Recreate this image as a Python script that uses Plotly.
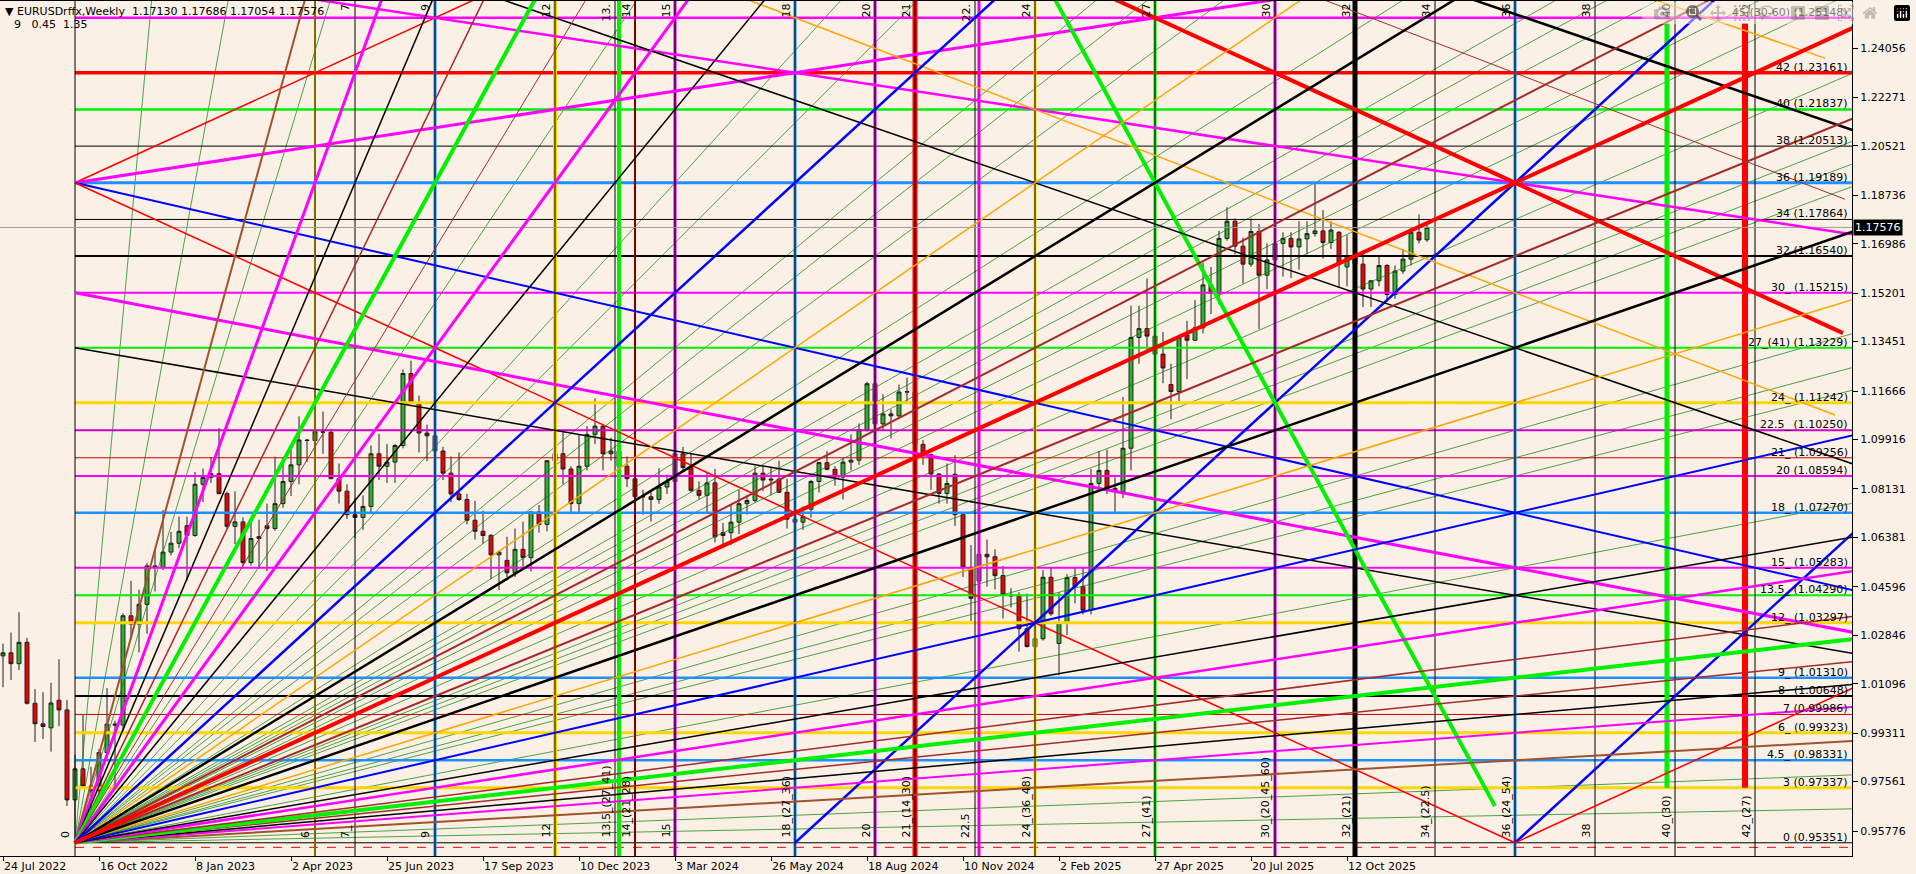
import plotly.graph_objects as go

# ------------------------------------------------------------------ data
date_tick_weeks = [0, 12, 24, 36, 48, 60, 72, 84, 96, 108, 120, 132, 144, 156, 168]
date_tick_labels = ["24 Jul 2022", "16 Oct 2022", "8 Jan 2023", "2 Apr 2023", "25 Jun 2023",
                    "17 Sep 2023", "10 Dec 2023", "3 Mar 2024", "26 May 2024", "18 Aug 2024",
                    "10 Nov 2024", "2 Feb 2025", "27 Apr 2025", "20 Jul 2025", "12 Oct 2025"]
price_ticks = [0.95776, 0.97561, 0.99311, 1.01096, 1.02846, 1.04596, 1.06381, 1.08131,
               1.09916, 1.11666, 1.13451, 1.15201, 1.16986, 1.18736, 1.20521, 1.22271, 1.24056]

# weekly EURUSD candles, week 0 = 24 Jul 2022
opens = [1.0210, 1.0221, 1.0182, 1.0259, 1.0039, 0.9965, 0.9950, 1.0050, 1.0015, 0.9690,
         0.9802, 0.9740, 0.9723, 0.9861, 0.9964, 0.9960, 1.0355, 1.0325, 1.0396, 1.0535,
         1.0530, 1.0585, 1.0617, 1.0680, 1.0645, 1.0830, 1.0855, 1.0868, 1.0796, 1.0678,
         1.0694, 1.0547, 1.0634, 1.0680, 1.0670, 1.0760, 1.0840, 1.0900, 1.0990, 1.0988,
         1.1020, 1.1018, 1.0850, 1.0805, 1.0720, 1.0710, 1.0750, 1.0940, 1.0895, 1.0910,
         1.0970, 1.1230, 1.1125, 1.1015, 1.1005, 1.0950, 1.0870, 1.0795, 1.0775, 1.0700,
         1.0660, 1.0645, 1.0575, 1.0555, 1.0510, 1.0595, 1.0565, 1.0730, 1.0685, 1.0915,
         1.0940, 1.0885, 1.0760, 1.0895, 1.1010, 1.1040, 1.0940, 1.0950, 1.0895, 1.0850,
         1.0785, 1.0785, 1.0775, 1.0820, 1.0840, 1.0940, 1.0890, 1.0808, 1.0790, 1.0835,
         1.0655, 1.0655, 1.0693, 1.0760, 1.0771, 1.0870, 1.0845, 1.0848, 1.0801, 1.0704,
         1.0693, 1.0740, 1.0840, 1.0908, 1.0884, 1.0856, 1.0910, 1.0917, 1.1027, 1.1193,
         1.1048, 1.1084, 1.1077, 1.1163, 1.1164, 1.0974, 1.0937, 1.0867, 1.0797, 1.0866,
         1.0720, 1.0530, 1.0480, 1.0577, 1.0568, 1.0500, 1.0430, 1.0427, 1.0308, 1.0244,
         1.0272, 1.0494, 1.0255, 1.0330, 1.0493, 1.0460, 1.0375, 1.0833, 1.0880, 1.0815,
         1.0803, 1.0960, 1.1360, 1.1392, 1.1365, 1.1300, 1.1190, 1.1165, 1.1370, 1.1350,
         1.1395, 1.1550, 1.1520, 1.1718, 1.1780, 1.1690, 1.1625, 1.1743, 1.1585, 1.1640,
         1.1700, 1.1718, 1.1687, 1.1716, 1.1735, 1.1745, 1.1703, 1.1740, 1.1615, 1.1655,
         1.1625, 1.1535, 1.1565, 1.1620, 1.1515, 1.1600, 1.1643, 1.1740, 1.17130]
highs = [1.0254, 1.0294, 1.0368, 1.0275, 1.0090, 1.0079, 1.0113, 1.0198, 1.0051, 0.9854,
         0.9999, 0.9809, 0.9873, 1.0094, 0.9976, 1.0364, 1.0481, 1.0449, 1.0545, 1.0595,
         1.0737, 1.0658, 1.0713, 1.0713, 1.0874, 1.0887, 1.0928, 1.1033, 1.0804, 1.0804,
         1.0710, 1.0691, 1.0702, 1.0760, 1.0930, 1.0927, 1.0973, 1.1075, 1.0993, 1.1095,
         1.1092, 1.1030, 1.0905, 1.0830, 1.0780, 1.0790, 1.0970, 1.1012, 1.0975, 1.0975,
         1.1245, 1.1276, 1.1150, 1.1045, 1.1065, 1.0965, 1.0930, 1.0945, 1.0795, 1.0770,
         1.0735, 1.0650, 1.0590, 1.0640, 1.0670, 1.0695, 1.0730, 1.0755, 1.0915, 1.0965,
         1.1017, 1.0895, 1.1010, 1.1040, 1.1140, 1.1045, 1.0998, 1.0970, 1.0930, 1.0895,
         1.0810, 1.0805, 1.0888, 1.0865, 1.0980, 1.0965, 1.0942, 1.0840, 1.0875, 1.0885,
         1.0690, 1.0755, 1.0810, 1.0790, 1.0895, 1.0895, 1.0890, 1.0915, 1.0850, 1.0760,
         1.0750, 1.0845, 1.0910, 1.0950, 1.0895, 1.0925, 1.1010, 1.1050, 1.1200, 1.1202,
         1.1155, 1.1100, 1.1190, 1.1215, 1.1210, 1.0990, 1.0940, 1.0870, 1.0905, 1.0935,
         1.0725, 1.0610, 1.0595, 1.0630, 1.0595, 1.0535, 1.0455, 1.0440, 1.0435, 1.0355,
         1.0520, 1.0530, 1.0440, 1.0505, 1.0530, 1.0530, 1.0885, 1.0950, 1.0955, 1.0855,
         1.1145, 1.1475, 1.1475, 1.1573, 1.1425, 1.1380, 1.1265, 1.1365, 1.1420, 1.1495,
         1.1630, 1.1615, 1.1745, 1.1830, 1.1790, 1.1720, 1.1790, 1.1770, 1.1700, 1.1730,
         1.1740, 1.1740, 1.1780, 1.1780, 1.1918, 1.1820, 1.1780, 1.1745, 1.1730, 1.1670,
         1.1670, 1.1565, 1.1655, 1.1625, 1.1620, 1.1680, 1.1760, 1.1805, 1.17686]
lows = [1.0097, 1.0123, 1.0159, 1.0034, 0.9899, 0.9910, 0.9864, 0.9956, 0.9668, 0.9536,
        0.9740, 0.9632, 0.9705, 0.9830, 0.9730, 0.9935, 1.0270, 1.0223, 1.0290, 1.0443,
        1.0520, 1.0573, 1.0600, 1.0483, 1.0640, 1.0766, 1.0835, 1.0794, 1.0669, 1.0614,
        1.0533, 1.0536, 1.0524, 1.0516, 1.0662, 1.0745, 1.0788, 1.0830, 1.0910, 1.0940,
        1.0940, 1.0850, 1.0760, 1.0705, 1.0635, 1.0665, 1.0730, 1.0845, 1.0835, 1.0835,
        1.0960, 1.1120, 1.0945, 1.0913, 1.0925, 1.0845, 1.0765, 1.0770, 1.0685, 1.0630,
        1.0615, 1.0488, 1.0448, 1.0495, 1.0495, 1.0520, 1.0515, 1.0655, 1.0660, 1.0855,
        1.0830, 1.0725, 1.0725, 1.0880, 1.0975, 1.0880, 1.0915, 1.0845, 1.0820, 1.0780,
        1.0720, 1.0695, 1.0760, 1.0795, 1.0835, 1.0880, 1.0800, 1.0775, 1.0725, 1.0620,
        1.0600, 1.0610, 1.0650, 1.0720, 1.0765, 1.0805, 1.0790, 1.0800, 1.0670, 1.0670,
        1.0665, 1.0710, 1.0800, 1.0880, 1.0825, 1.0775, 1.0880, 1.0900, 1.1020, 1.1040,
        1.1025, 1.0995, 1.1070, 1.1120, 1.0950, 1.0900, 1.0810, 1.0760, 1.0760, 1.0680,
        1.0495, 1.0335, 1.0425, 1.0460, 1.0450, 1.0345, 1.0385, 1.0225, 1.0240, 1.0178,
        1.0265, 1.0355, 1.0140, 1.0285, 1.0400, 1.0360, 1.0360, 1.0805, 1.0795, 1.0730,
        1.0780, 1.0880, 1.1265, 1.1305, 1.1265, 1.1195, 1.1065, 1.1130, 1.1210, 1.1350,
        1.1375, 1.1445, 1.1480, 1.1710, 1.1660, 1.1555, 1.1615, 1.1390, 1.1535, 1.1590,
        1.1580, 1.1575, 1.1605, 1.1660, 1.1725, 1.1645, 1.1680, 1.1540, 1.1545, 1.1575,
        1.1470, 1.1470, 1.1545, 1.1490, 1.1500, 1.1590, 1.1620, 1.1700, 1.17054]
closes = [1.0221, 1.0182, 1.0259, 1.0039, 0.9965, 0.9955, 1.0040, 1.0015, 0.9690, 0.9802,
          0.9740, 0.9723, 0.9861, 0.9964, 0.9960, 1.0355, 1.0325, 1.0396, 1.0535, 1.0530,
          1.0585, 1.0617, 1.0660, 1.0645, 1.0830, 1.0855, 1.0868, 1.0796, 1.0678, 1.0694,
          1.0547, 1.0634, 1.0641, 1.0670, 1.0760, 1.0840, 1.0900, 1.0990, 1.0988, 1.1020,
          1.1018, 1.0850, 1.0805, 1.0720, 1.0710, 1.0750, 1.0940, 1.0895, 1.0910, 1.0970,
          1.1230, 1.1125, 1.1015, 1.1005, 1.0950, 1.0870, 1.0795, 1.0775, 1.0700, 1.0660,
          1.0645, 1.0575, 1.0585, 1.0510, 1.0595, 1.0565, 1.0730, 1.0685, 1.0915, 1.0940,
          1.0885, 1.0760, 1.0895, 1.1010, 1.1040, 1.0940, 1.0950, 1.0895, 1.0850, 1.0785,
          1.0785, 1.0775, 1.0820, 1.0840, 1.0940, 1.0890, 1.0808, 1.0790, 1.0835, 1.0640,
          1.0645, 1.0693, 1.0760, 1.0771, 1.0870, 1.0845, 1.0848, 1.0801, 1.0704, 1.0693,
          1.0713, 1.0840, 1.0908, 1.0884, 1.0856, 1.0910, 1.0917, 1.1027, 1.1193, 1.1048,
          1.1084, 1.1077, 1.1163, 1.1164, 1.0974, 1.0937, 1.0867, 1.0797, 1.0833, 1.0720,
          1.0530, 1.0418, 1.0577, 1.0568, 1.0500, 1.0430, 1.0427, 1.0308, 1.0244, 1.0272,
          1.0494, 1.0362, 1.0330, 1.0493, 1.0460, 1.0375, 1.0833, 1.0880, 1.0815, 1.0803,
          1.0960, 1.1360, 1.1392, 1.1365, 1.1300, 1.1250, 1.1165, 1.1360, 1.1350, 1.1395,
          1.1550, 1.1520, 1.1718, 1.1780, 1.1690, 1.1625, 1.1743, 1.1585, 1.1640, 1.1700,
          1.1718, 1.1687, 1.1716, 1.1735, 1.1745, 1.1703, 1.1748, 1.1625, 1.1655, 1.1625,
          1.1535, 1.1565, 1.1620, 1.1515, 1.1600, 1.1643, 1.1740, 1.1712, 1.17576]
last_price = 1.17576
header_line1 = "\u25bc EURUSDrffx,Weekly\u00a0\u00a01.17130 1.17686 1.17054 1.17576"
header_line2 = "9\u00a0\u00a0\u00a00.45\u00a0\u00a01.35"

# Gann grid anchored on the Sep-2022 low (week 9, 0.95351)
grid_origin_week = 9
grid_weeks_per_unit = 5
grid_origin_price = 0.95351
grid_price_per_unit = 0.00662167

level_units = [0, 3, 4.5, 6, 7, 8, 9, 12, 13.5, 15, 18, 20, 21, 22.5, 24, 27, 30, 32, 34, 36, 38, 40, 42, 45]
level_prices = [0.95351, 0.97337, 0.98331, 0.99323, 0.99986, 1.00648, 1.01310, 1.03297, 1.04290,
                1.05283, 1.07270, 1.08594, 1.09256, 1.10250, 1.11242, 1.13229, 1.15215, 1.16540,
                1.17864, 1.19189, 1.20513, 1.21837, 1.23161, 1.25148]
level_texts = ["0 (0.95351)", "3 (0.97337)", "4.5_ (0.98331)", "6_ (0.99323)", "7 (0.99986)",
               "8_ (1.00648)", "9_ (1.01310)", "12_ (1.03297)", "13.5_ (1.04290)", "15_ (1.05283)",
               "18_ (1.07270)", "20 (1.08594)", "21_ (1.09256)", "22.5_ (1.10250)", "24_ (1.11242)",
               "27_(41) (1.13229)", "30_ (1.15215)", "32 (1.16540)", "34 (1.17864)", "36 (1.19189)",
               "38 (1.20513)", "40 (1.21837)", "42 (1.23161)", "45 (30-60) (1.25148)"]

time_units = [0, 6, 7, 9, 12, 13.5, 14, 15, 18, 20, 21, 22.5, 24, 27, 30, 32, 34, 36, 38, 40, 42]
time_texts = ["0", "6", "7_", "9", "12", "13.5_(27_41)", "14_(21_28)", "15", "18_(27_36)", "20",
              "21_(14_30)", "22.5", "24_(36_48)", "27_(41)", "30_(20_45_60)", "32_(21)", "34_(22.5)",
              "36_(24_54)", "38", "40_(30)", "42_(27)"]

# fan rays from the low, (time, price) targets in grid units
fan_major = [(4.5, 36), (36, 4.5), (6, 36), (36, 6), (7, 36), (36, 7), (8, 36), (36, 8),
             (9, 36), (36, 9), (10, 36), (36, 10), (12, 36), (36, 12), (13.5, 36), (36, 13.5),
             (18, 36), (36, 18), (24, 36), (36, 24), (27, 36), (36, 27), (32, 36), (36, 32), (36, 36)]
fan_minor_steep = [1.5, 3, 5, 11, 15, 16.5, 20, 21, 22.5, 26, 29, 30, 31, 33, 34.5]
fan_minor_flat = [1.5, 3, 15, 20, 21, 22.5, 29, 30, 31, 34]

# other grid lines, pairs of (time, price) points in grid units
other_lines = [((0, 36), (20, 56)), ((0, 36), (60, 56)), ((0, 36), (60, 6)), ((0, 36), (36, 0)),
               ((0, 30), (60, 5)), ((0, 27), (60, 4.5)), ((6, 46), (60, 28)), ((20, 52), (44.2, 27.8)),
               ((18, 0), (60, 84)), ((36, 0), (60, 48)), ((36, 0), (60, 24)), ((35.5, 2), (23, 52)),
               ((8, 48), (60, 9)), ((30, 49.7), (60, 27.2)), ((12, 50), (44, 23.33)),
               ((36, 48.6), (43.75, 42.8)), ((28, 48.67), (44.25, 35.1))]

# ------------------------------------------------------------------ styles
GOLD = "#FFD700"; DBLUE = "#1E90FF"; LIME = "#00F000"; MAG = "#FF00FF"; RED = "#FF0000"
BLK = "#000000"; BLUE = "#0000FF"; ORANGE = "#FFA500"; BROWN = "#A52A2A"; SIENNA = "#A0522D"
GRN = "#008000"; DRED = "#CC0000"; PURP = "#E000E0"; BG = "#FAF0E6"
FONT = "Tahoma, 'DejaVu Sans', sans-serif"

level_style = {0: (BLK, 1), 3: (GOLD, 3), 4.5: (DBLUE, 2.5), 6: (GOLD, 3), 7: (DRED, 1), 8: (BLK, 2),
               9: (DBLUE, 2.5), 12: (GOLD, 3), 13.5: (LIME, 2), 15: (MAG, 2), 18: (DBLUE, 2.5),
               20: (MAG, 2), 21: (DRED, 1), 22.5: ("#CC00CC", 2), 24: (GOLD, 3), 27: (LIME, 2),
               30: (MAG, 2), 32: (BLK, 2), 34: (BLK, 1), 36: (DBLUE, 3), 38: (BLK, 1), 40: (LIME, 2.5),
               42: (RED, 3.5), 45: (MAG, 2.5)}
vert_style = [(6, GOLD, 2, None), (9, DBLUE, 3, None), (12, GOLD, 4, None), (13.6, LIME, 4, None),
              (14, RED, 2, None), (15, PURP, 3, None), (18, DBLUE, 3, None), (20, PURP, 3, None),
              (21, RED, 5, None), (22.6, PURP, 3, None), (24, GOLD, 3, None), (27, LIME, 3, None),
              (30, PURP, 3, None), (32, BLK, 5, None), (36, DBLUE, 3, None),
              (39.8, LIME, 5, (3, 44.7)), (41.75, RED, 6, (3, 44.7))]
fan_style = {(4.5, 36): (SIENNA, 2), (36, 4.5): (SIENNA, 2), (6, 36): (MAG, 3), (36, 6): (MAG, 2),
             (7, 36): (BLK, 1.5), (36, 7): (BLK, 1.5), (8, 36): (BROWN, 1.5), (36, 8): (BROWN, 1.5),
             (9, 36): (LIME, 4), (36, 9): (LIME, 4), (10, 36): (BROWN, 1), (36, 10): (BROWN, 1.5),
             (12, 36): (MAG, 3), (36, 12): (MAG, 2.5), (13.5, 36): (BLK, 1.5), (36, 13.5): (BLK, 1.5),
             (18, 36): (BLUE, 2.5), (36, 18): (BLUE, 2), (24, 36): (ORANGE, 1.5), (36, 24): (ORANGE, 1.5),
             (27, 36): (BLK, 2.5), (36, 27): (BLK, 2.5), (32, 36): (BROWN, 2), (36, 32): (BROWN, 2),
             (36, 36): (RED, 4)}
other_style = [(RED, 1.5), (MAG, 3), (BLUE, 2), (RED, 1.5), (MAG, 3), (BLK, 1.5), (MAG, 2.5), (RED, 4),
               (BLUE, 2.5), (BLUE, 2.5), (RED, 1.5), (LIME, 4), (BLK, 1.5), (BLK, 2.5), (ORANGE, 1.5),
               (ORANGE, 1.5), (BROWN, 1)]

X_RANGE = [-0.375, 231.125]
Y_RANGE = [0.94873, 1.25754]


def gx(t):
    return grid_origin_week + grid_weeks_per_unit * t


def gy(p):
    return grid_origin_price + grid_price_per_unit * p


fig = go.Figure()


def add_xy(xs, ys, color, width, dash=None):
    fig.add_trace(go.Scatter(x=xs, y=ys, mode="lines", line=dict(color=color, width=width, dash=dash),
                             hoverinfo="skip", showlegend=False))


def add_unit_segments(segs, color, width, dash=None):
    xs, ys = [], []
    for (t1, p1), (t2, p2) in segs:
        xs += [gx(t1), gx(t2), None]
        ys += [gy(p1), gy(p2), None]
    add_xy(xs, ys, color, width, dash)


# thin green fan
minor = [((0, 0), (k * 4, 144)) for k in fan_minor_steep] + [((0, 0), (144, k * 4)) for k in fan_minor_flat]
add_unit_segments(minor, GRN, 0.7)

# horizontal levels
for u, pr in zip(level_units, level_prices):
    c, w = level_style[u]
    add_xy([gx(0), X_RANGE[1] + 5], [pr, pr], c, w)
add_xy([gx(0), X_RANGE[1] + 5], [gy(-0.25), gy(-0.25)], RED, 1, "dash")

# vertical time lines
for t, c, w, span in vert_style:
    p0, p1 = span if span else (-5, 60)
    add_unit_segments([((t, p0), (t, p1))], c, w)
add_unit_segments([((t, -5), (t, 60)) for t in time_units], BLK, 1)

# current price line
add_xy([X_RANGE[0] - 5, X_RANGE[1] + 5], [last_price, last_price], "#9A9A9A", 1)

# other grid diagonals
for seg, (c, w) in zip(other_lines, other_style):
    add_unit_segments([seg], c, w)

# major fan rays
for tgt in fan_major:
    c, w = fan_style[tgt]
    add_unit_segments([((0, 0), (tgt[0] * 4, tgt[1] * 4))], c, w)

# candles
fig.add_trace(go.Candlestick(
    x=list(range(len(opens))), open=opens, high=highs, low=lows, close=closes,
    increasing=dict(line=dict(color="#1E1E1E", width=1), fillcolor="#2DB52D"),
    decreasing=dict(line=dict(color="#1E1E1E", width=1), fillcolor="#F00000"),
    whiskerwidth=0, hoverinfo="skip", showlegend=False))

ann = []
# level labels on the right
for pr, txt in zip(level_prices, level_texts):
    ann.append(dict(xref="paper", x=1, xanchor="right", xshift=-2, y=pr, yref="y", yanchor="bottom",
                    yshift=-3, text=txt, showarrow=False, font=dict(family=FONT, size=11, color="black")))
# time labels bottom
for t, txt in zip(time_units, time_texts):
    ann.append(dict(x=gx(t), xref="x", xanchor="right", xshift=-1, y=0, yref="paper", yanchor="bottom",
                    yshift=16, text=txt, textangle=-90, showarrow=False,
                    font=dict(family=FONT, size=11, color="black")))
# time labels at the top of the frame (short form, as they appear there)
for t, txt in zip(time_units[2:], time_texts[2:]):
    short = txt.split("_")[0][:3] if "." in txt.split("_")[0] else txt.split("_")[0]
    ann.append(dict(x=gx(t), xref="x", xanchor="right", xshift=-1, y=1, yref="paper", yanchor="top",
                    yshift=-1, text=short, textangle=-90, showarrow=False,
                    font=dict(family=FONT, size=11, color="black")))
# header
ann.append(dict(xref="paper", x=0, xanchor="left", xshift=3, yref="paper", y=1, yanchor="top", yshift=-2,
                text=header_line1, showarrow=False, font=dict(family=FONT, size=11, color="black")))
ann.append(dict(xref="paper", x=0, xanchor="left", xshift=12, yref="paper", y=1, yanchor="top", yshift=-15,
                text=header_line2, showarrow=False, font=dict(family=FONT, size=11, color="black")))
# current price box
ann.append(dict(xref="paper", x=1, xanchor="left", xshift=1, y=last_price, yref="y", yanchor="middle",
                text="1.17576", showarrow=False, bgcolor="black", borderpad=1,
                font=dict(family=FONT, size=11, color="white")))

fig.update_layout(
    width=1916, height=874, margin=dict(l=0, r=64, t=1, b=18),
    paper_bgcolor=BG, plot_bgcolor=BG, showlegend=False, annotations=ann,
    xaxis=dict(range=X_RANGE, tickmode="array", tickvals=date_tick_weeks, ticktext=date_tick_labels,
               ticks="outside", ticklen=4, tickcolor="black", ticklabelposition="outside right",
               showgrid=False, zeroline=False, showline=True, linecolor="black", linewidth=1, mirror=True,
               rangeslider=dict(visible=False), tickfont=dict(family=FONT, size=11, color="black")),
    yaxis=dict(range=Y_RANGE, side="right", tickmode="array", tickvals=price_ticks,
               ticktext=["%.5f" % v for v in price_ticks], ticks="outside", ticklen=5, tickcolor="black",
               showgrid=False, zeroline=False, showline=True, linecolor="black", linewidth=1,
               tickfont=dict(family=FONT, size=11, color="black")),
)

fig.write_html("out.html", post_script="document.body.style.margin='0';document.body.style.overflow='hidden';")
